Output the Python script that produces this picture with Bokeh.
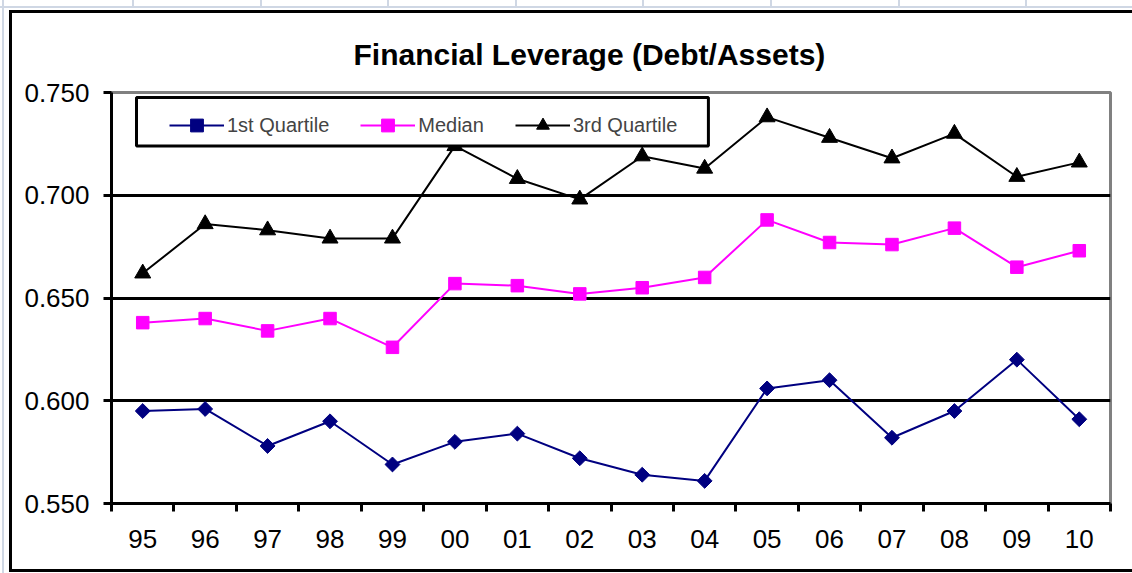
import math
from bokeh.plotting import figure
from bokeh.models import (Range1d, FixedTicker, NumeralTickFormatter, Legend, LegendItem,
                          BoxAnnotation)
from bokeh.embed import file_html
from bokeh.resources import INLINE

years = ["95", "96", "97", "98", "99", "00", "01", "02", "03", "04",
         "05", "06", "07", "08", "09", "10"]
q1 = [0.595, 0.596, 0.578, 0.590, 0.569, 0.580, 0.584, 0.572, 0.564, 0.561,
      0.606, 0.610, 0.582, 0.595, 0.620, 0.591]
median = [0.638, 0.640, 0.634, 0.640, 0.626, 0.657, 0.656, 0.652, 0.655, 0.660,
          0.688, 0.677, 0.676, 0.684, 0.665, 0.673]
q3 = [0.662, 0.686, 0.683, 0.679, 0.679, 0.724, 0.708, 0.698, 0.719, 0.713,
      0.738, 0.728, 0.718, 0.730, 0.709, 0.716]
y_ticks = [0.55, 0.60, 0.65, 0.70, 0.75]
grid_ticks = [0.60, 0.65, 0.70]

FONT = "Liberation Sans"
n = len(years)
xs = [i + 0.5 for i in range(n)]

p = figure(width=1132, height=573, output_backend="svg", toolbar_location=None,
           x_range=Range1d(0, n), y_range=Range1d(0.55, 0.75),
           min_border_left=111, min_border_right=22, min_border_top=92, min_border_bottom=70)

# page backdrop: spreadsheet cell lines + the chart-area edge (left, top, bottom),
# painted behind a transparent plot border
BLACK = "linear-gradient(#000, #000)"
CELL = "linear-gradient(#cfd7e4, #cfd7e4)"
layers = [(BLACK, "9px 10px", "3px 562px"),
          (BLACK, "9px 10px", "1123px 3px"),
          (BLACK, "9px 569px", "1123px 3px"),
          (CELL, "0px 6px", "1132px 2px"),
          (CELL, "2px 0px", "2px 573px")]
for cx in [132, 260, 387, 515, 642, 770, 898, 1025]:
    layers.append((CELL, f"{cx}px 0px", "2px 7px"))
p.styles = {
    "background-color": "white",
    "background-image": ", ".join(l[0] for l in layers),
    "background-position": ", ".join(l[1] for l in layers),
    "background-size": ", ".join(l[2] for l in layers),
    "background-repeat": "no-repeat",
}
p.border_fill_alpha = 0

p.title.text = "Financial Leverage (Debt/Assets)"
p.title.text_font = FONT
p.title.text_font_size = "30px"
p.title.text_font_style = "bold"
p.title.text_color = "black"
p.title.align = "left"
p.title.offset = 242
p.title.standoff = 43

p.outline_line_color = "#808080"
p.outline_line_width = 3
p.background_fill_color = "white"

p.xgrid.grid_line_color = None
p.ygrid.ticker = FixedTicker(ticks=grid_ticks)
p.ygrid.grid_line_color = "black"
p.ygrid.grid_line_width = 3

xa = p.xaxis[0]
xa.ticker = FixedTicker(ticks=xs, minor_ticks=list(range(n + 1)))
xa.major_label_overrides = {x: y for x, y in zip(xs, years)}
xa.major_tick_line_color = None
xa.minor_tick_line_color = "black"
xa.minor_tick_line_width = 3
xa.minor_tick_out = 8
xa.minor_tick_in = 0
xa.axis_line_width = 3
xa.axis_line_color = "black"
xa.major_label_text_font = FONT
xa.major_label_text_font_size = "26px"
xa.major_label_text_color = "black"
xa.major_label_standoff = 18

ya = p.yaxis[0]
ya.ticker = FixedTicker(ticks=y_ticks)
ya.formatter = NumeralTickFormatter(format="0.000")
ya.major_tick_line_width = 3
ya.major_tick_out = 8
ya.major_tick_in = 0
ya.minor_tick_line_color = None
ya.axis_line_width = 3
ya.axis_line_color = "black"
ya.major_label_text_font = FONT
ya.major_label_text_font_size = "26px"
ya.major_label_text_color = "black"
ya.major_label_standoff = 14

l1 = p.line(xs, q1, line_color="#000080", line_width=2)
m1 = p.scatter(xs, q1, marker="square", angle=math.pi / 4, size=10.5,
               fill_color="#000080", line_color="#000080")
l2 = p.line(xs, median, line_color="#FF00FF", line_width=2)
m2 = p.scatter(xs, median, marker="square", size=12.5, fill_color="#FF00FF", line_color="#FF00FF")
l3 = p.line(xs, q3, line_color="black", line_width=2)
m3 = p.scatter(xs, q3, marker="triangle", size=16, fill_color="black", line_color="black")

box = BoxAnnotation(left=0.40, right=9.56, top=0.7476, bottom=0.7240,
                    fill_color="white", fill_alpha=1.0,
                    line_color="black", line_alpha=1.0, line_width=3,
                    level="annotation")
p.add_layout(box)

legend = Legend(items=[LegendItem(label="1st Quartile", renderers=[l1, m1]),
                       LegendItem(label="Median", renderers=[l2, m2]),
                       LegendItem(label="3rd Quartile", renderers=[l3, m3])],
                orientation="horizontal", location=(58, 362),
                padding=5, margin=0, spacing=31, label_standoff=3,
                glyph_width=55, glyph_height=32,
                label_text_font=FONT, label_text_font_size="20px",
                border_line_color=None, background_fill_alpha=0)
p.add_layout(legend)

open("out.html", "w").write(file_html(p, INLINE))
